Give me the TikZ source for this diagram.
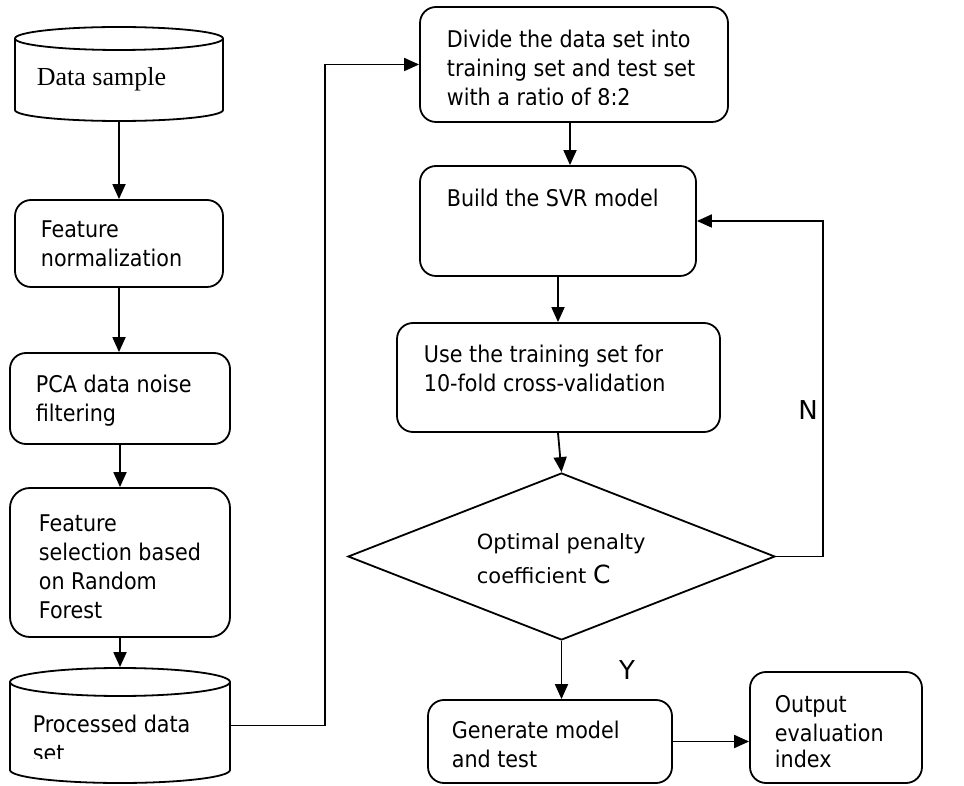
\documentclass[tikz,border=0pt]{standalone}
\usepackage{fontspec}
\setmainfont{DejaVu Sans Condensed}
\newfontfamily\labelfont{DejaVu Sans}
\newfontfamily\serifface{Liberation Serif}
\usetikzlibrary{shapes.geometric,arrows.meta}

\begin{document}
\begin{tikzpicture}[x=1pt,y=1pt,
  line width=1.8pt,
  proc/.style={draw, rounded corners=16pt, inner sep=0pt},
  store/.style={inner sep=0pt},
  txt/.style={inner sep=0pt, anchor=base west, font=\fontsize{23}{29}\selectfont},
  dtxt/.style={inner sep=0pt, anchor=base west, font=\labelfont\fontsize{21}{25}\selectfont},
  yn/.style={inner sep=0pt, font=\labelfont\fontsize{26}{30}\selectfont},
  arr/.style={-{Triangle[length=15pt,width=13pt]}},
 ]
\useasboundingbox (0,0) rectangle (964,785);

% ---- left column ----
\node[store, minimum width=208pt, minimum height=94pt] (ds) at (119,711) {};
\draw (15,746.5) -- (15,675) arc[start angle=180, end angle=360, x radius=104, y radius=11] -- (223,746.5);
\draw (119,746.5) ellipse [x radius=104, y radius=11.5];
\node[inner sep=0pt, anchor=base west, font=\serifface\fontsize{26}{30}\selectfont] (ds-t) at (36,699) {Data sample};

\node[proc, minimum width=208pt, minimum height=87pt] (b1) at (119,541.5) {};
\node[txt] (b1-a) at (40,547) {Feature};
\node[txt] (b1-b) at (40,518) {normalization};

\node[proc, minimum width=220pt, minimum height=91pt] (b2) at (120,386.5) {};
\node[txt] (b2-a) at (35,392) {PCA data noise};
\node[txt] (b2-b) at (35,363) {filtering};

\node[proc, rounded corners=20pt, minimum width=220pt, minimum height=149pt] (b3) at (120,222.5) {};
\node[txt] (b3-a) at (38,253) {Feature};
\node[txt] (b3-b) at (38,224) {selection based};
\node[txt] (b3-c) at (38,195) {on Random};
\node[txt] (b3-d) at (38,166) {Forest};

\node[store, minimum width=220pt, minimum height=115pt] (ps) at (120,59.5) {};
\draw (10,103) -- (10,15) arc[start angle=180, end angle=360, x radius=110, y radius=13] -- (230,103);
\draw (120,103) ellipse [x radius=110, y radius=14];
\node[txt] (ps-a) at (32,53) {Processed data};
\begin{scope}
  \clip (0,27) rectangle (964,785);
  \node[txt] (ps-b) at (32,24) {set};
\end{scope}

% ---- right column ----
\node[proc, minimum width=308pt, minimum height=115pt] (dv) at (574,720.5) {};
\node[txt] (dv-a) at (446,737) {Divide the data set into};
\node[txt] (dv-b) at (446,708) {training set and test set};
\begin{scope}
  \clip (0,680) rectangle (964,785);
  \node[txt] (dv-c) at (446,679) {with a ratio of 8:2};
\end{scope}

\node[proc, minimum width=276pt, minimum height=110pt] (bd) at (558,564) {};
\node[txt] (bd-a) at (446,578) {Build the SVR model};

\node[proc, minimum width=323pt, minimum height=109pt] (cv) at (558.5,407.5) {};
\node[txt] (cv-a) at (423,422) {Use the training set for};
\node[txt] (cv-b) at (423,393) {10-fold cross-validation};

\node[draw, diamond, inner sep=0pt, minimum width=427pt, minimum height=167pt] (dec) at (561.5,228.5) {};
\node[dtxt] (dec-a) at (476,235) {Optimal penalty};
\node[dtxt] (dec-b) at (476,201) {coefficient {\fontsize{25}{30}\selectfont C}};

\node[proc, minimum width=244pt, minimum height=83pt] (gm) at (550,43.5) {};
\node[txt] (gm-a) at (451,47) {Generate model};
\node[txt] (gm-b) at (451,18) {and test};

\node[proc, minimum width=172pt, minimum height=111pt] (oe) at (836,57.5) {};
\node[txt] (oe-a) at (774,73) {Output};
\node[txt] (oe-b) at (774,44) {evaluation};
\node[txt] (oe-c) at (774,18) {index};

% ---- branch labels ----
\node[yn] (lab-y) at (627,115) {Y};
\node[yn] (lab-n) at (808,375) {N};

% ---- connectors ----
\coordinate (k1) at (325,0);
\coordinate (nr) at (823,0);
\draw[arr] (ds.south) -- (b1.north);
\draw[arr] (b1.south) -- (b1.south |- b2.north);
\draw[arr] (b2.south) -- (b3.north);
\draw[arr] (b3.south) -- (ps.north);
\draw[arr] (ps.east) -- (ps.east -| k1) -- (k1 |- dv.west) -- (dv.west);
\draw[arr] ([xshift=-4pt]dv.south) -- ([xshift=-4pt]dv.south |- bd.north);
\draw[arr] (bd.south) -- (bd.south |- cv.north);
\draw[arr] ([xshift=-0.5pt]cv.south) -- (dec.north);
\draw[arr] (dec.south) -- (dec.south |- gm.north);
\draw[arr] (gm.east) -- (gm.east -| oe.west);
\draw[arr] (dec.east) -- (dec.east -| nr) -- (nr |- bd.east) -- (bd.east);
\end{tikzpicture}
\end{document}
